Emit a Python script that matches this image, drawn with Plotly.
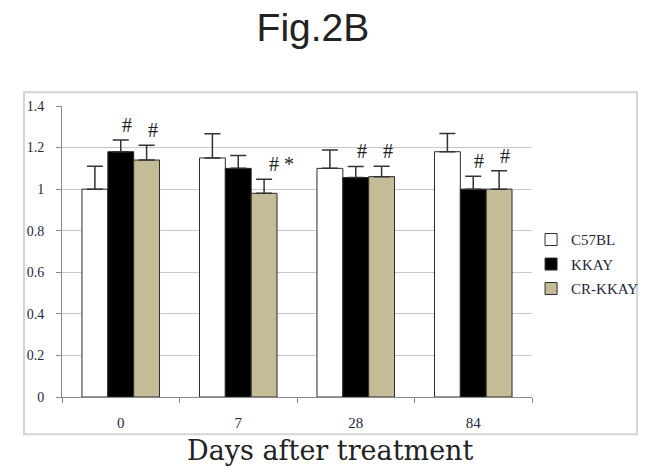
import plotly.graph_objects as go

days = ["0", "7", "28", "84"]
series_names = ["C57BL", "KKAY", "CR-KKAY"]
c57bl = [1.00, 1.15, 1.10, 1.18]
kkay = [1.18, 1.10, 1.056, 1.00]
cr_kkay = [1.14, 0.98, 1.06, 1.00]
c57bl_err = [0.11, 0.117, 0.088, 0.088]
kkay_err = [0.056, 0.062, 0.053, 0.062]
cr_kkay_err = [0.071, 0.067, 0.05, 0.088]
y_ticks = [0, 0.2, 0.4, 0.6, 0.8, 1.0, 1.2, 1.4]
y_tick_text = ["0", "0.2", "0.4", "0.6", "0.8", "1", "1.2", "1.4"]

# significance marks: (day, series index, text)
marks = [("0", 1, "#"), ("0", 2, "#"), ("7", 2, "# *"),
         ("28", 1, "#"), ("28", 2, "#"), ("84", 1, "#"), ("84", 2, "#")]

fills = ["#ffffff", "#000000", "#c4bc96"]
values = [c57bl, kkay, cr_kkay]
errors = [c57bl_err, kkay_err, cr_kkay_err]

serif = "Liberation Serif, DejaVu Serif, serif"
label_color = "#1f2740"

fig = go.Figure()
for name, vals, errs, col in zip(series_names, values, errors, fills):
    fig.add_trace(go.Bar(
        x=days, y=vals, name=name, legendgroup=name,
        marker=dict(color=col, line=dict(color="#2a2a2a", width=1)),
        error_y=dict(type="data", symmetric=False, array=errs,
                     arrayminus=[0] * len(errs),
                     color="#333333", thickness=1.5, width=8),
    ))

# bar slots within a category: 3 bars over (1 - bargap) of the category width
bargap = 0.34
slot = (1 - bargap) / 3
for day, si, txt in marks:
    i = days.index(day)
    top = values[si][i] + errors[si][i]
    fig.add_annotation(
        x=i + (si - 1) * slot, y=top, xref="x", yref="y", text=txt,
        showarrow=False,
        xanchor="center" if txt == "#" else "left", yanchor="bottom",
        xshift=6 if txt == "#" else 3, yshift=2,
        font=dict(family=serif, size=20, color="#222222"),
    )

# x-axis caption
fig.add_annotation(
    x=0.57, y=-0.183, xref="paper", yref="paper", text="Days after treatment",
    showarrow=False, xanchor="center", yanchor="middle",
    font=dict(family="DejaVu Serif, serif", size=27, color="#222222"),
)

# outer chart border
fig.add_shape(type="rect", xref="paper", yref="paper",
              x0=(24 - 62) / 470, x1=(637 - 62) / 470,
              y0=(396.7 - 434) / 291, y1=(396.7 - 92) / 291,
              line=dict(color="#d4d4d4", width=2), fillcolor="rgba(0,0,0,0)",
              layer="below")

fig.update_layout(
    width=648, height=466,
    margin=dict(l=62, r=116, t=106, b=69, autoexpand=False),
    paper_bgcolor="white", plot_bgcolor="white",
    barmode="group", bargap=bargap, bargroupgap=0,
    title=dict(text="Fig.2B", x=0.534, xref="paper", xanchor="center",
               y=1 - 27 / 466, yanchor="middle",
               font=dict(family="Liberation Sans, Arial, sans-serif", size=39, color="#222222")),
    showlegend=True,
    legend=dict(x=0.998, y=0.456, xanchor="left", yanchor="middle",
                font=dict(family=serif, size=15, color=label_color),
                itemwidth=30, tracegroupgap=2, bgcolor="rgba(0,0,0,0)"),
    xaxis=dict(
        type="category", range=[-0.5, 3.5],
        showgrid=False, showline=True, linecolor="#888888", linewidth=1,
        ticks="outside", tickson="boundaries", ticklen=5, tickcolor="#888888",
        ticklabelstandoff=12,
        tickfont=dict(family=serif, size=15, color=label_color),
    ),
    yaxis=dict(
        range=[0, 1.4], tickvals=y_ticks, ticktext=y_tick_text,
        showgrid=True, gridcolor="#c8c8c8", gridwidth=1,
        showline=True, linecolor="#888888", linewidth=1,
        ticks="outside", ticklen=5, tickcolor="#888888",
        ticklabelstandoff=9,
        tickfont=dict(family=serif, size=14, color=label_color),
        zeroline=False,
    ),
)

fig.write_html("out.html")
